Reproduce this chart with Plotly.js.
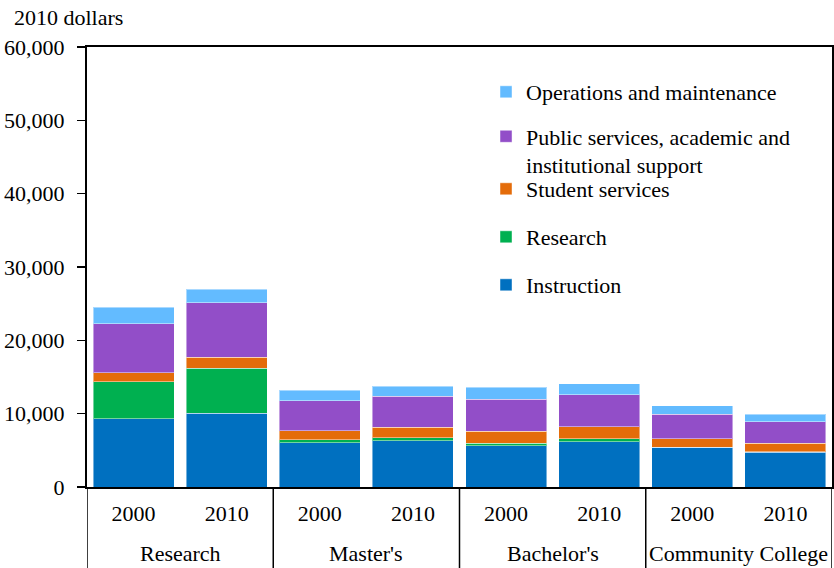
<!DOCTYPE html>
<html><head><meta charset="utf-8">
<script src="https://cdn.plot.ly/plotly-3.0.1.min.js"></script>
<style>html,body{margin:0;padding:0;background:#fff}#chart{width:834px;height:568px}</style>
</head><body><div id="chart"></div>
<script>
const groups = ["Research","Master's","Bachelor's","Community College"];
const years = ["2000","2010"];
const barGroup = ["Research","Research","Master's","Master's","Bachelor's","Bachelor's","Community College","Community College"];
const barYear = ["2000","2010","2000","2010","2000","2010","2000","2010"];
const instruction = [9300,10050,6050,6320,5640,6140,5410,4770];
const research = [5050,6130,400,410,310,450,20,30];
const studentServices = [1230,1500,1190,1450,1640,1640,1150,1180];
const publicServices = [6680,7460,4130,4180,4410,4320,3360,2910];
const operations = [2230,1820,1410,1410,1590,1540,1140,1050];
const seriesNames = ["Instruction","Research","Student services","Public services, academic and<br>institutional support","Operations and maintenance"];
const yTickVals = [0,10000,20000,30000,40000,50000,60000];
const yAxisLabel = "2010 dollars";

const FONT = "Liberation Serif";
const colors = ["#0070C0","#00B050","#E46C0A","#924EC8","#63BBFF"];
const values = [instruction, research, studentServices, publicServices, operations];
const legendIds = ["legend5","legend4","legend3","legend2","legend"];
const cats = barGroup.map((g,i)=>g+" "+barYear[i]);

const traces = values.map((v,i)=>({
  type:'bar',
  name: seriesNames[i],
  x:cats,
  y:v,
  legend: legendIds[i],
  marker:{color:colors[i], line:{color:'rgba(255,255,255,0.45)', width:1}},
  hoverinfo:'skip'
}));

function pY(px){ return (487-px)/440; }
const legBase = {bgcolor:'rgba(0,0,0,0)', borderwidth:0, font:{family:FONT,size:22,color:'#000'}, x:0.5356, xanchor:'left', yanchor:'middle', valign:'top'};

const annotations = [{
  text:yAxisLabel, xref:'paper', yref:'paper', x:(12-87)/745, y:pY(18),
  xanchor:'left', yanchor:'middle', showarrow:false,
  font:{family:FONT,size:22,color:'#000'}
}];
const shapes = [];
groups.forEach((g,gi)=>{
  const idx = barGroup.map((b,i)=>b===g?i:-1).filter(i=>i>=0);
  const mid = (idx[0]+idx[idx.length-1])/2;
  annotations.push({text:g, xref:'x', yref:'paper', x:mid, y:pY(553), xanchor:'center', yanchor:'middle',
    showarrow:false, font:{family:FONT,size:22,color:'#000'}});
  shapes.push({type:'line', xref:'x', yref:'paper', x0:idx[0]-0.5, x1:idx[0]-0.5, y0:0, y1:pY(570),
    line:{color:'#000', width:1.5}});
  if(gi===groups.length-1){
    const e = idx[idx.length-1]+0.5;
    shapes.push({type:'line', xref:'x', yref:'paper', x0:e, x1:e, y0:0, y1:pY(570), line:{color:'#000', width:1.5}});
  }
});

const layout = {
  width:834, height:568,
  margin:{l:87, r:2, t:47, b:81, pad:0},
  paper_bgcolor:'#fff', plot_bgcolor:'#fff',
  font:{family:FONT, size:22, color:'#000'},
  barmode:'stack',
  bargap:0.13,
  showlegend:true,
  legend: Object.assign({}, legBase, {y:pY(92)}),
  legend2: Object.assign({}, legBase, {y:pY(151)}),
  legend3: Object.assign({}, legBase, {y:pY(189)}),
  legend4: Object.assign({}, legBase, {y:pY(237)}),
  legend5: Object.assign({}, legBase, {y:pY(285)}),
  xaxis:{
    type:'category', range:[-0.5,7.5],
    tickvals:cats, ticktext:barYear,
    showline:true, linecolor:'#000', linewidth:2, mirror:true,
    ticks:'', ticklabelstandoff:6, showgrid:false, zeroline:false,
    tickfont:{family:FONT,size:22,color:'#000'}
  },
  yaxis:{
    range:[0,60000], tickvals:yTickVals, tickformat:',',
    ticks:'outside', ticklen:8, tickwidth:1.5, tickcolor:'#000',
    ticklabelstandoff:8,
    showline:true, linecolor:'#000', linewidth:2, mirror:true,
    showgrid:false, zeroline:false,
    tickfont:{family:FONT,size:22,color:'#000'}
  },
  annotations:annotations,
  shapes:shapes
};

Plotly.newPlot('chart', traces, layout, {displayModeBar:false, staticPlot:true});
</script></body></html>
